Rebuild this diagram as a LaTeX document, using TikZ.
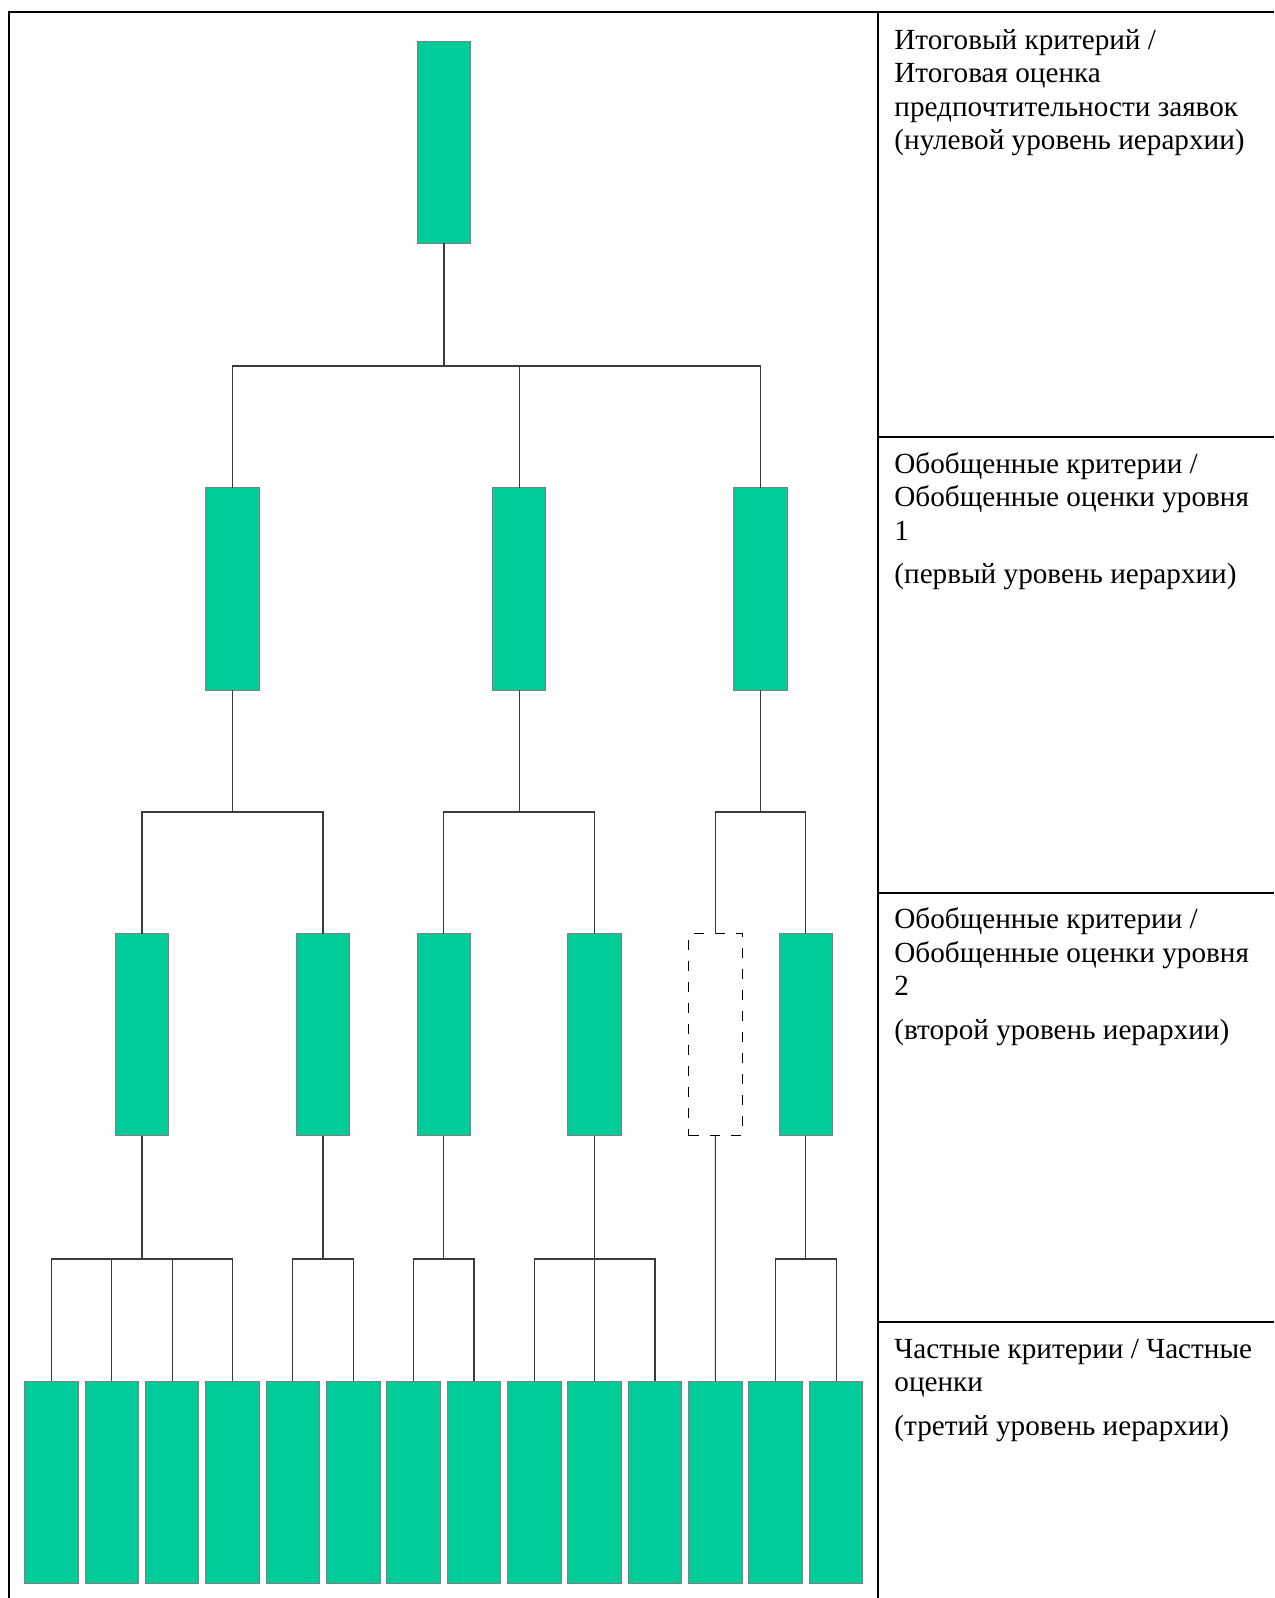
\documentclass[tikz,border=0pt]{standalone}
\usepackage{fontspec}
\setmainfont{Liberation Serif}
\definecolor{boxgreen}{RGB}{0,204,153}
\definecolor{boxedge}{RGB}{128,128,128}
\definecolor{linkcol}{RGB}{60,60,60}
\newcommand{\firststrut}{\rule{0pt}{12pt}}
\begin{document}
\begin{tikzpicture}[x=0.5pt,y=-0.5pt,
  crit/.style={draw=boxedge,line width=0.5pt,fill=boxgreen,minimum width=26.75pt,minimum height=101pt,inner sep=0pt,outer sep=0pt},
  ghost/.style={draw=black,line width=0.45pt,dash pattern=on 5pt off 5.5pt,minimum width=26.75pt,minimum height=101pt,inner sep=0pt,outer sep=0pt},
  link/.style={draw=linkcol,line width=0.55pt},
  frame/.style={draw=black,line width=1pt},
  lvltext/.style={anchor=north west,align=left,inner sep=0pt,font=\fontsize{14.6}{16.7}\selectfont}]
\useasboundingbox (0,0) rectangle (1274,1598);
% table frame
\coordinate (tl) at (9,12);
\coordinate (tr) at (1274,12);
\coordinate (bl) at (9,1598);
\coordinate (dt) at (878,12);
\coordinate (db) at (878,1598);
\coordinate (h1l) at (878,437);
\coordinate (h1r) at (1274,437);
\coordinate (h2l) at (878,892.7);
\coordinate (h2r) at (1274,892.7);
\coordinate (h3l) at (878,1322);
\coordinate (h3r) at (1274,1322);
\draw[frame] (bl) -- (tl) -- (tr);
\draw[frame] (dt) -- (db);
\draw[frame] (h1l) -- (h1r);
\draw[frame] (h2l) -- (h2r);
\draw[frame] (h3l) -- (h3r);
% level texts
\node[lvltext] (t0) at (894,25) {\firststrut Итоговый критерий /\\Итоговая оценка\\предпочтительности заявок\\(нулевой уровень иерархии)};
\node[lvltext] (t1) at (894,449) {\firststrut Обобщенные критерии /\\Обобщенные оценки уровня\\1\\[5pt](первый уровень иерархии)};
\node[lvltext] (t2) at (894,904.5) {\firststrut Обобщенные критерии /\\Обобщенные оценки уровня\\2\\[5pt](второй уровень иерархии)};
\node[lvltext] (t3) at (894,1334) {\firststrut Частные критерии / Частные\\оценки\\[5pt](третий уровень иерархии)};
% buses
\coordinate (b0) at (0,366);
\coordinate (b1) at (0,812);
\coordinate (b2) at (0,1259);
% level 0
\node[crit] (r) at (444,142.5) {};
% level 1
\node[crit] (a) at (232.5,589) {};
\node[crit] (b) at (519.2,589) {};
\node[crit] (c) at (760.6,589) {};
% level 2
\node[crit] (a1) at (142,1034.5) {};
\node[crit] (a2) at (323,1034.5) {};
\node[crit] (b1n) at (443.8,1034.5) {};
\node[crit] (b2n) at (594.65,1034.5) {};
\node[ghost] (c1) at (715.35,1034.5) {};
\node[crit] (c2) at (805.9,1034.5) {};
% level 3
\foreach \i in {1,...,14}{
  \node[crit] (l\i) at ({51.5+60.35*(\i-1)},1482) {};
}
% connectors level 0 -> 1
\foreach \ch in {a,b,c}{
  \draw[link] (r.south) -- (r.south |- b0) -| (\ch.north);
}
% level 1 -> 2
\foreach \ch in {a1,a2}{ \draw[link] (a.south) -- (a.south |- b1) -| (\ch.north); }
\foreach \ch in {b1n,b2n}{ \draw[link] (b.south) -- (b.south |- b1) -| (\ch.north); }
\foreach \ch in {c1,c2}{ \draw[link] (c.south) -- (c.south |- b1) -| (\ch.north); }
% level 2 -> 3
\foreach \ch in {l1,l2,l3,l4}{ \draw[link] (a1.south) -- (a1.south |- b2) -| (\ch.north); }
\foreach \ch in {l5,l6}{ \draw[link] (a2.south) -- (a2.south |- b2) -| (\ch.north); }
\foreach \ch in {l7,l8}{ \draw[link] (b1n.south) -- (b1n.south |- b2) -| (\ch.north); }
\foreach \ch in {l9,l10,l11}{ \draw[link] (b2n.south) -- (b2n.south |- b2) -| (\ch.north); }
\draw[link] (c1.south) -- (l12.north);
\foreach \ch in {l13,l14}{ \draw[link] (c2.south) -- (c2.south |- b2) -| (\ch.north); }
\end{tikzpicture}
\end{document}
